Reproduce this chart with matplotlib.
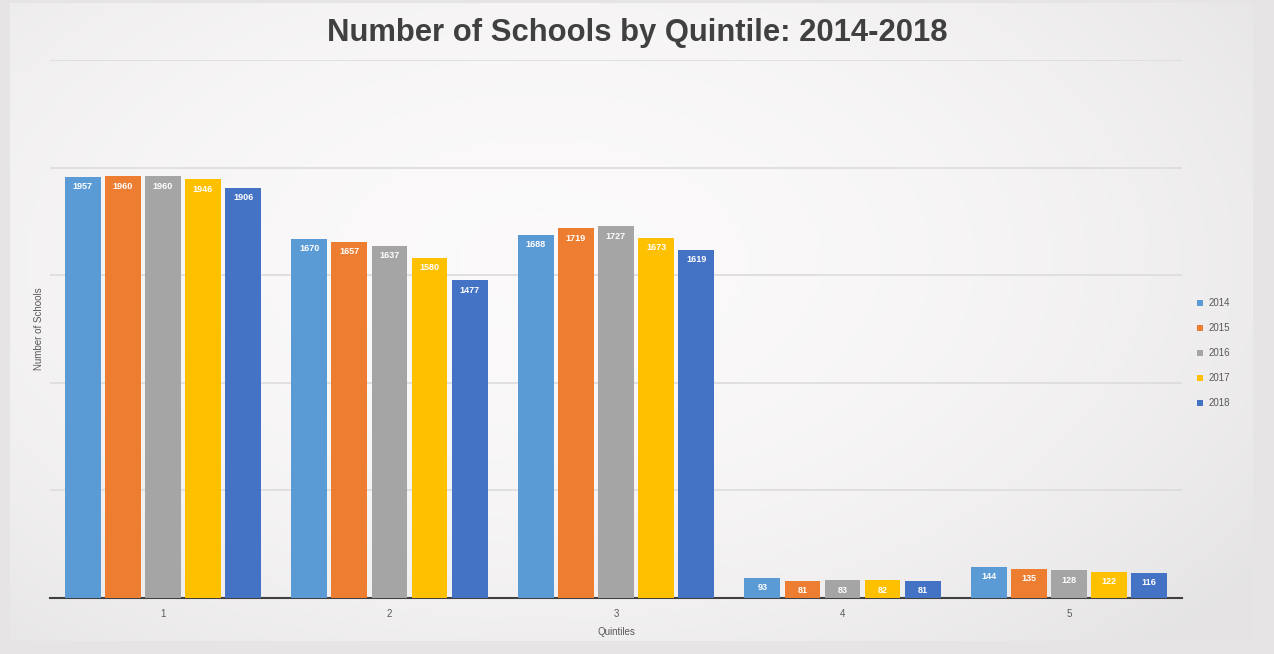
import numpy as np
import matplotlib
matplotlib.use("Agg")
import matplotlib.pyplot as plt

# data
quintiles = ["1", "2", "3", "4", "5"]
years = ["2014", "2015", "2016", "2017", "2018"]
schools_2014 = [1957, 1670, 1688, 93, 144]
schools_2015 = [1960, 1657, 1719, 81, 135]
schools_2016 = [1960, 1637, 1727, 83, 128]
schools_2017 = [1946, 1580, 1673, 82, 122]
schools_2018 = [1906, 1477, 1619, 81, 116]
series = [schools_2014, schools_2015, schools_2016, schools_2017, schools_2018]
colors = ["#5b9bd5", "#ed7d31", "#a5a5a5", "#ffc000", "#4472c4"]

plt.rcParams['font.family'] = ['Liberation Sans', 'DejaVu Sans']

fig = plt.figure(figsize=(12.74, 6.54), dpi=100)
fig.patch.set_facecolor('#e6e4e4')

# soft gradient background like the slide screenshot
bg = fig.add_axes([0.008, 0.02, 0.975, 0.975], zorder=0)
yy, xx = np.mgrid[0:200, 0:400]
dist = np.sqrt(((xx - 170) / 260.0) ** 2 + ((yy - 80) / 150.0) ** 2)
shade = np.clip(0.985 - 0.07 * dist ** 2, 0.9, 0.99)
bg.imshow(np.dstack([shade, shade * 0.993, shade * 0.993]), aspect='auto',
          extent=[0, 1, 0, 1], interpolation='bilinear')
bg.set_axis_off()

ax = fig.add_axes([0.039, 0.0856, 0.889, 0.8224], zorder=1)
ax.patch.set_alpha(0)

x = np.arange(len(quintiles))
pitch = 0.177
bar_w = 0.158
for i, (vals, col, yr) in enumerate(zip(series, colors, years)):
    pos = x + (i - 2) * pitch
    bars = ax.bar(pos, vals, width=bar_w, color=col, label=yr, zorder=3)
    for b, v in zip(bars, vals):
        ax.text(b.get_x() + b.get_width() / 2, v - 25, str(v), ha='center', va='top',
                fontsize=6.5, color='white', fontweight='bold', zorder=4)

ax.set_xlim(-0.5, 4.5)
ax.set_ylim(0, 2500)
ax.set_yticks([500, 1000, 1500, 2000, 2500])
ax.yaxis.grid(True, color='#dcdcdc', linewidth=1.2, zorder=0)
ax.tick_params(axis='y', left=False, labelleft=False)
ax.set_xticks(x)
ax.set_xticklabels(quintiles, fontsize=7, color='#595959')
ax.tick_params(axis='x', length=0, pad=8)
for s in ['top', 'right', 'left']:
    ax.spines[s].set_visible(False)
ax.spines['bottom'].set_color('#404040')
ax.spines['bottom'].set_linewidth(1.5)

ax.set_xlabel('Quintiles', fontsize=7, color='#595959', labelpad=6)
ax.set_ylabel('Number of Schools', fontsize=7, color='#595959', labelpad=4)

fig.text(0.5, 0.95, 'Number of Schools by Quintile: 2014-2018', ha='center', va='center',
         fontsize=22.3, fontweight='bold', color='#404040')

leg = ax.legend(loc='center left', bbox_to_anchor=(1.005, 0.455), frameon=False,
                fontsize=7, handlelength=0.6, handleheight=0.6, labelspacing=1.55,
                handletextpad=0.6)
for t in leg.get_texts():
    t.set_color('#595959')

fig.savefig('out.png', dpi=100, facecolor=fig.get_facecolor())
